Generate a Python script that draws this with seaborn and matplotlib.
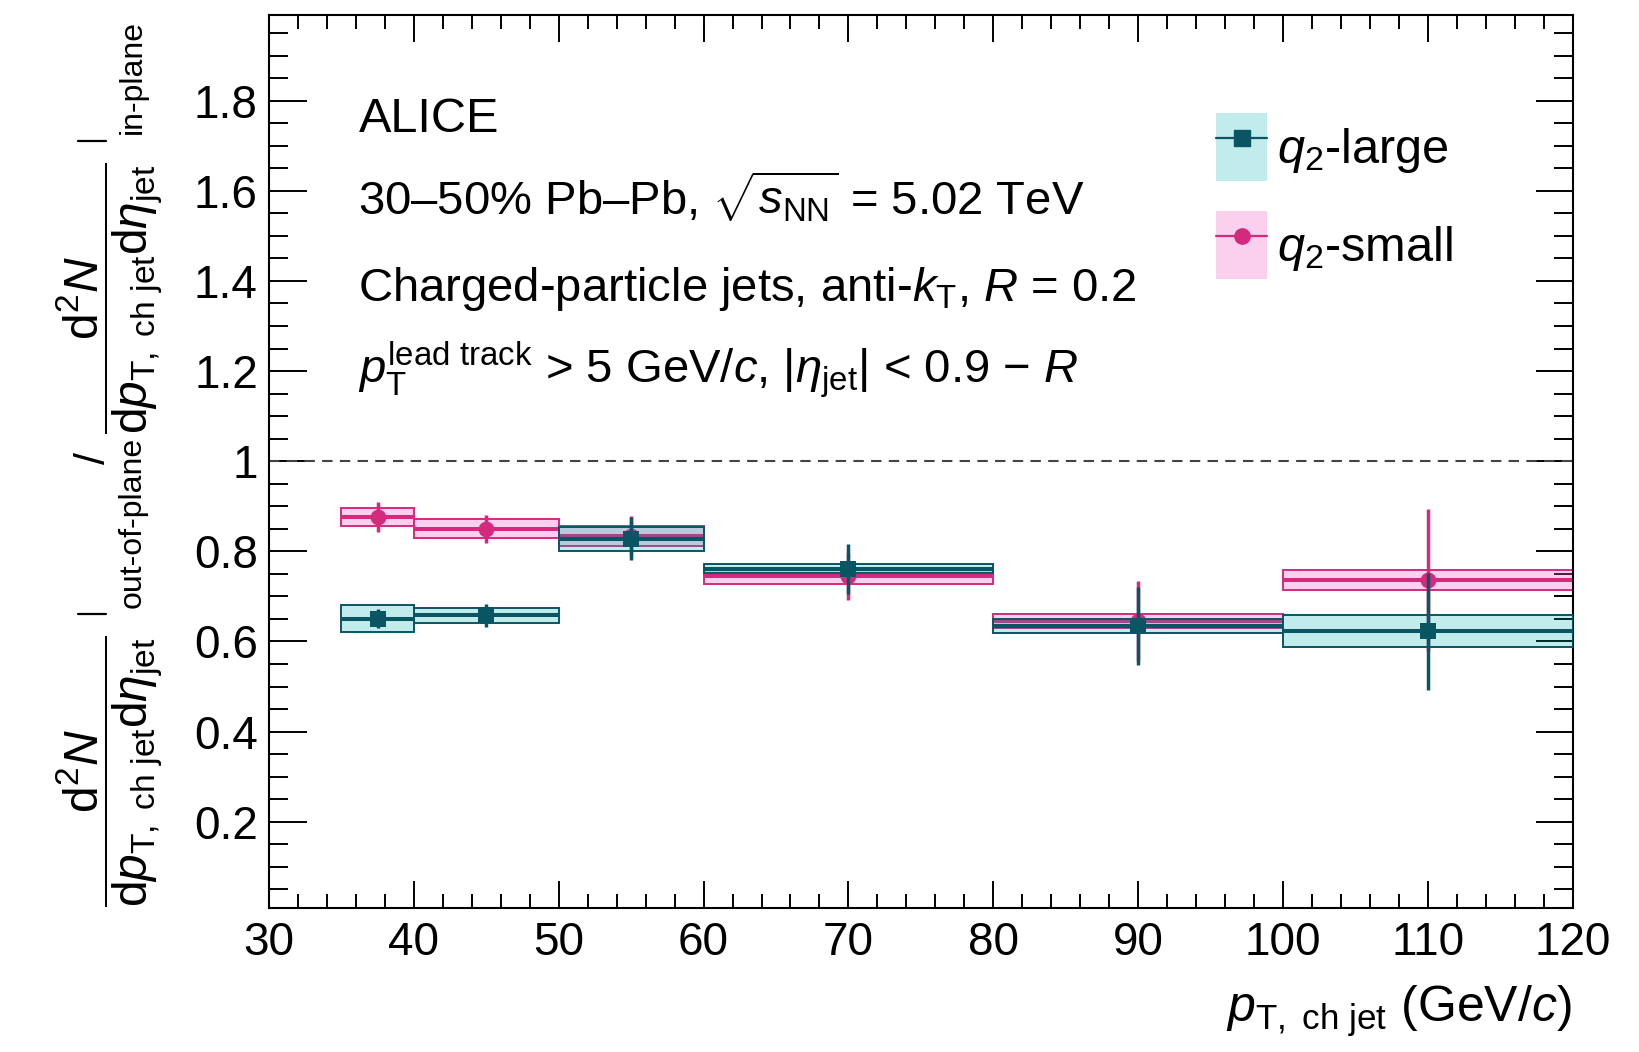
import numpy as np
import pandas as pd
import matplotlib
matplotlib.use("Agg")
import matplotlib.pyplot as plt
import seaborn as sns
from matplotlib.ticker import MultipleLocator, FixedLocator
from matplotlib.patches import Patch
from matplotlib.lines import Line2D
from matplotlib.legend_handler import HandlerTuple

# ---------------- data ----------------
bin_lo = [35, 40, 50, 60, 80, 100]
bin_hi = [40, 50, 60, 80, 100, 120]
x_center = [37.5, 45, 55, 70, 90, 110]

large_val = [0.651, 0.658, 0.828, 0.761, 0.635, 0.623]
large_stat = [0.020, 0.025, 0.048, 0.055, 0.087, 0.130]
large_syst = [0.030, 0.017, 0.027, 0.010, 0.016, 0.035]

small_val = [0.877, 0.850, 0.834, 0.745, 0.645, 0.736]
small_stat = [0.033, 0.031, 0.044, 0.052, 0.089, 0.157]
small_syst = [0.020, 0.021, 0.022, 0.018, 0.015, 0.022]

ytick_vals = [0.2, 0.4, 0.6, 0.8, 1.0, 1.2, 1.4, 1.6, 1.8]
ytick_labels = ["0.2", "0.4", "0.6", "0.8", "1", "1.2", "1.4", "1.6", "1.8"]
xtick_vals = [30, 40, 50, 60, 70, 80, 90, 100, 110, 120]

# ---------------- style ----------------
sns.set_theme(style="ticks")
plt.rcParams["font.family"] = ["Liberation Sans", "DejaVu Sans"]
plt.rcParams["mathtext.fontset"] = "custom"
plt.rcParams["mathtext.rm"] = "Liberation Sans"
plt.rcParams["mathtext.it"] = "Liberation Sans:italic"
plt.rcParams["mathtext.bf"] = "Liberation Sans:bold"
plt.rcParams["mathtext.sf"] = "Liberation Sans"
for key in ["text.color", "axes.labelcolor", "xtick.color", "ytick.color",
            "axes.edgecolor"]:
    plt.rcParams[key] = "black"

TEAL = "#0a5564"
PINK = "#d42a7d"
TEAL_FILL = (0.0, 0.68, 0.68, 0.24)
PINK_FILL = (0.95, 0.40, 0.80, 0.30)

W, H = 1639, 1052
fig = plt.figure(figsize=(W / 100, H / 100), dpi=100)
ax = fig.add_axes([0.1641, 0.1366, 0.7955, 0.8491])


def fx(px):
    return px / W


def fy(py):
    return 1 - py / H


widths = [h - l for l, h in zip(bin_lo, bin_hi)]

df = pd.DataFrame({
    "x": x_center * 2,
    "y": large_val + small_val,
    "series": ["large"] * 6 + ["small"] * 6,
})


def draw_series(val, stat, syst, color, fill, z, marker, series):
    # systematic boxes
    ax.bar(bin_lo, [2 * s for s in syst], width=widths,
           bottom=[v - s for v, s in zip(val, syst)], align="edge",
           color=fill, edgecolor=color, linewidth=1.4, zorder=z)
    # bin-width line
    ax.hlines(val, bin_lo, bin_hi, color=color, lw=2.9, zorder=z + 0.5)
    # statistical errors
    ax.errorbar(x_center, val, yerr=stat, fmt="none", ecolor=color,
                elinewidth=2.5, capsize=0, zorder=z + 0.6)
    sns.scatterplot(data=df[df["series"] == series], x="x", y="y", ax=ax,
                    marker=marker, s=130, color=color, edgecolor=color,
                    linewidth=0, zorder=z + 0.7, legend=False)


draw_series(small_val, small_stat, small_syst, PINK, PINK_FILL, 2, "o", "small")
draw_series(large_val, large_stat, large_syst, TEAL, TEAL_FILL, 4, "s", "large")

ax.axhline(1.0, color="#444444", lw=1.5, ls=(0, (5, 3.5)), zorder=1)

# axes
ax.set_xlim(30, 120)
ax.set_ylim(0.008, 1.99)
ax.xaxis.set_major_locator(FixedLocator(xtick_vals))
ax.xaxis.set_minor_locator(MultipleLocator(2))
ax.set_yticks(ytick_vals, ytick_labels)
ax.yaxis.set_minor_locator(MultipleLocator(0.05))
ax.set_xlabel("")
ax.set_ylabel("")
for sp in ax.spines.values():
    sp.set_linewidth(1.5)
    sp.set_color("black")
    sp.set_visible(True)
ax.tick_params(which="both", direction="in", top=True, right=True,
               width=1.4, color="black")
ax.tick_params(axis="x", which="major", length=19.4, labelsize=33, pad=9)
ax.tick_params(axis="x", which="minor", length=10)
ax.tick_params(axis="y", which="major", length=27, labelsize=33, pad=8)
ax.tick_params(axis="y", which="minor", length=13.7)

# x label
fig.text(0.959, 0.0285, r"$p_{\mathrm{T,\ ch\ jet}}$ (GeV/$c$)", ha="right",
         va="baseline", fontsize=36)

# y label, built from its parts
frac = (r"$\dfrac{\mathrm{d}^{2}N}{\mathrm{d}p_{\mathrm{T,\ ch\ jet}}"
        r"\mathrm{d}\eta_{\mathrm{jet}}}$")
fig.text(fx(109.5), fy(771), frac, rotation=90, ha="center", va="center",
         fontsize=34.5)
fig.text(fx(109.5), fy(298), frac, rotation=90, ha="center", va="center",
         fontsize=34.5)
fig.text(fx(94), fy(458), "/", rotation=90, ha="center", va="center",
         fontsize=31)
fig.text(fx(133), fy(522), "out-of-plane", rotation=90, ha="center",
         va="center", fontsize=23)
fig.text(fx(133), fy(77), "in-plane", rotation=90, ha="center",
         va="center", fontsize=23)
for ybar in (614, 141):
    fig.add_artist(Line2D([fx(78), fx(106)], [fy(ybar), fy(ybar)],
                          color="black", lw=1.6))

# annotation text
tx = 358.5 / W
fig.text(tx, fy(131.7), "ALICE", fontsize=35, va="baseline")
fig.text(tx, fy(214), r"30–50% Pb–Pb, $\sqrt{s_{\mathrm{NN}}}$ = 5.02 TeV",
         fontsize=34, va="baseline")
fig.text(tx, fy(301), r"Charged-particle jets, anti-$k_{\mathrm{T}}$, $R$ = 0.2",
         fontsize=34, va="baseline")
fig.text(tx, fy(383.6),
         r"$p_{\mathrm{T}}^{\mathrm{lead\ track}}$ > 5 GeV/$c$, |$\eta_{\mathrm{jet}}$| < 0.9 − $R$",
         fontsize=34, va="baseline")

# legend
h_large = (Patch(facecolor=TEAL_FILL, edgecolor="none"),
           Line2D([], [], color=TEAL, lw=1.6, marker="s", markersize=11))
h_small = (Patch(facecolor=PINK_FILL, edgecolor="none"),
           Line2D([], [], color=PINK, lw=1.6, marker="o", markersize=11))
leg = ax.legend([h_large, h_small], [r"$q_{2}$-large", r"$q_{2}$-small"],
                handler_map={tuple: HandlerTuple(ndivide=1, pad=0)},
                loc="upper left", bbox_to_anchor=(fx(1216), fy(113)),
                bbox_transform=fig.transFigure, frameon=False, fontsize=35,
                borderpad=0, borderaxespad=0, handlelength=1.05,
                handleheight=1.777, labelspacing=0.62, handletextpad=0.21)

fig.savefig("out.png", dpi=100)
